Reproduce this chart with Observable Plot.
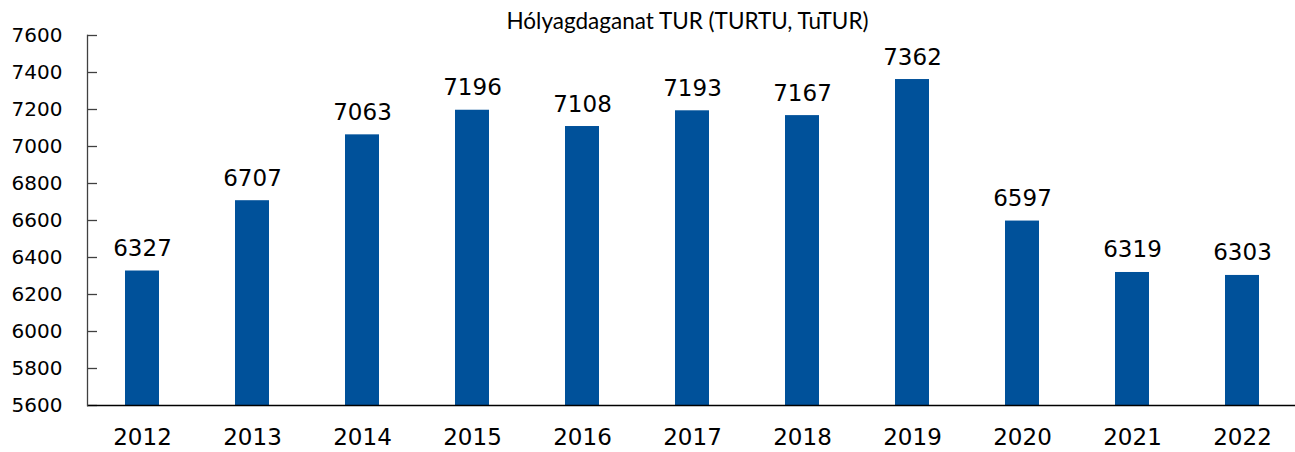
<!DOCTYPE html>
<html>
<head>
<meta charset="utf-8">
<script src="https://cdn.jsdelivr.net/npm/d3@7"></script>
<script src="https://cdn.jsdelivr.net/npm/@observablehq/plot@0.6"></script>
<style>
  html, body { margin: 0; padding: 0; background: #fff; }
</style>
</head>
<body>
<div id="chart"></div>
<script>
const title = "Hólyagdaganat TUR (TURTU, TuTUR)";
const years = ["2012","2013","2014","2015","2016","2017","2018","2019","2020","2021","2022"];
const values = [6327, 6707, 7063, 7196, 7108, 7193, 7167, 7362, 6597, 6319, 6303];
const yMin = 5600;
const yMax = 7600;
const yTicks = [5600, 5800, 6000, 6200, 6400, 6600, 6800, 7000, 7200, 7400, 7600];

const data = years.map((year, i) => ({year, value: values[i]}));

const W = 1295, H = 452;
const mL = 87, mR = -2, mT = 35, mB = 47;
const barColor = "#00519a";
const axisColor = "#404040";

const chart = Plot.plot({
  width: W,
  height: H,
  marginLeft: mL,
  marginRight: mR,
  marginTop: mT,
  marginBottom: mB,
  style: {fontFamily: "DejaVu Sans", color: "#000", background: "#fff", overflow: "visible"},
  x: {type: "band", domain: years, paddingInner: 0.69, paddingOuter: 0.345, label: null},
  y: {domain: [yMin, yMax], label: null},
  marks: [
    Plot.barY(data, {x: "year", y1: yMin, y2: "value", fill: barColor}),
    Plot.tickY(yTicks, {y: d => d, stroke: axisColor, strokeWidth: 1.3, insetRight: W - mL - mR - 10}),
    Plot.ruleY([yMin], {stroke: "#000", strokeWidth: 1.5}),
    Plot.frame({anchor: "left", stroke: axisColor, strokeWidth: 1.3}),
    Plot.axisY({ticks: yTicks, tickSize: 0, tickPadding: 25, fontSize: 20, label: null, tickFormat: d => String(d)}),
    Plot.axisX({tickSize: 0, tickPadding: 23, fontSize: 23, label: null}),
    Plot.text(data, {x: "year", y: "value", text: d => String(d.value), dy: -15, lineAnchor: "bottom", fontSize: 23, fill: "#000"}),
    Plot.text([title], {frameAnchor: "top", dy: -22, text: d => d, fontSize: 22.5, fontFamily: "Lato", fill: "#000", dx: -5})
  ]
});
document.getElementById("chart").appendChild(chart);
</script>
</body>
</html>
